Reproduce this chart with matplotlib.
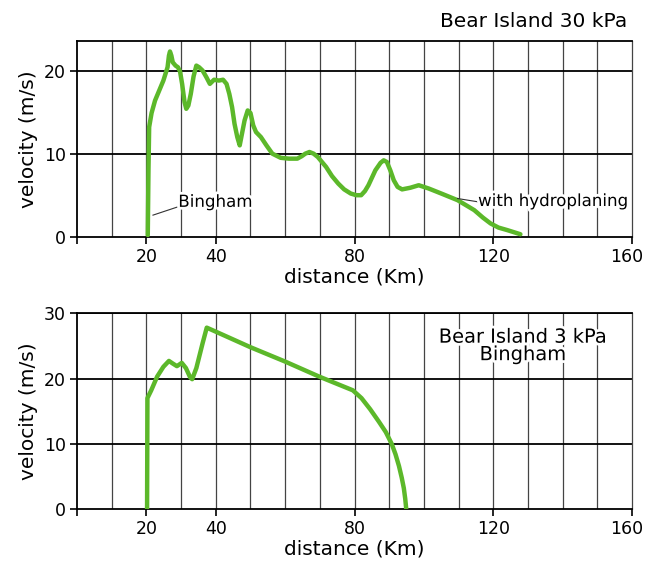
import matplotlib
matplotlib.use('Agg')
import matplotlib.pyplot as plt
import matplotlib.patheffects as pe
from matplotlib.transforms import ScaledTranslation

# --------------------------------------------------------------
# data
# top panel: Bear Island 30 kPa (with hydroplaning)
dist_30 = [20.4, 20.6, 20.8, 21.5, 22.5, 23.8, 24.9, 26.1, 26.5, 26.8, 27.2, 27.6, 28.4, 29.1,
           29.7, 30.3, 31.0, 31.5, 32.1, 32.8, 33.6, 34.4, 35.2, 36.2, 37.3, 38.3, 39.5, 40.9,
           42.1, 43.1, 43.9, 44.7, 45.4, 46.2, 46.9, 47.6, 48.3, 49.2, 50.0, 50.8, 51.6, 53.0,
           54.6, 56.3, 58.7, 61.1, 63.5, 64.8, 65.8, 67.0, 68.2, 69.4, 71.8, 73.5, 75.3, 77.0,
           78.9, 80.5, 81.9, 83.0, 84.0, 86.0, 87.5, 88.4, 89.3, 90.3, 91.3, 92.4, 93.7, 94.9,
           96.1, 98.5, 101.4, 105.0, 109.7, 114.5, 117.0, 119.2, 121.5, 124.0, 127.8]
vel_30 = [0.2, 8.0, 13.2, 14.9, 16.4, 17.7, 18.8, 20.4, 21.8, 22.3, 21.8, 21.0, 20.6, 20.4,
          19.9, 18.4, 16.2, 15.4, 15.8, 17.2, 19.3, 20.6, 20.4, 20.0, 19.2, 18.4, 18.9, 18.8,
          18.9, 18.4, 17.2, 15.6, 13.6, 12.0, 11.0, 12.5, 14.0, 15.2, 14.9, 13.4, 12.6, 12.0,
          11.0, 10.0, 9.5, 9.4, 9.4, 9.7, 10.0, 10.2, 10.0, 9.6, 8.4, 7.3, 6.4, 5.7,
          5.2, 5.0, 5.0, 5.5, 6.2, 8.0, 8.9, 9.2, 9.0, 8.0, 6.8, 6.0, 5.7, 5.8,
          5.9, 6.2, 5.8, 5.2, 4.4, 3.2, 2.3, 1.6, 1.1, 0.8, 0.3]

# bottom panel: Bear Island 3 kPa (Bingham)
dist_3 = [20.2, 20.3, 21.4, 23.1, 24.9, 26.5, 27.6, 28.8, 30.2, 31.4, 32.6, 33.2, 34.4, 36.2,
          37.4, 39.1, 50.0, 60.0, 69.8, 79.5, 82.0, 84.5, 87.0, 89.0, 90.7, 91.8, 92.8, 93.6,
          94.2, 94.6, 94.9]
vel_3 = [0.0, 17.0, 18.2, 20.3, 21.8, 22.7, 22.3, 21.9, 22.4, 21.6, 20.2, 19.9, 21.6, 25.4,
         27.8, 27.4, 24.8, 22.6, 20.3, 18.2, 17.0, 15.3, 13.4, 11.8, 10.0, 8.4, 6.6, 4.8,
         3.2, 1.6, 0.0]

x_ticks = [0, 20, 40, 80, 120, 160]
x_ticklabels = ['', '20', '40', '80', '120', '160']

green = '#5cb82a'

plt.rcParams['font.family'] = 'DejaVu Sans'

fig = plt.figure(figsize=(6.47, 5.65), dpi=100)
ax1 = fig.add_axes([0.119, 0.581, 0.858, 0.347])
ax2 = fig.add_axes([0.119, 0.099, 0.858, 0.3465])

halo = [pe.withStroke(linewidth=4, foreground='white')]


def style_axes(ax, ymax, yticks):
    ax.set_xlim(0, 160)
    ax.set_ylim(0, ymax)
    for x in range(10, 160, 10):
        ax.axvline(x, color='#444444', linewidth=0.9, zorder=1)
    for y in yticks[1:]:
        ax.axhline(y, color='black', linewidth=1.3, zorder=1)
    ax.spines['right'].set_color('#444444')
    ax.spines['right'].set_linewidth(0.9)
    for s in ['left', 'top', 'bottom']:
        ax.spines[s].set_linewidth(1.3)
    ax.set_xticks(x_ticks)
    ax.set_xticklabels(x_ticklabels)
    ax.set_yticks(yticks)
    ax.tick_params(axis='both', direction='out', length=5, width=1.2, labelsize=12.5, pad=3)
    # keep the last label inside the figure
    last = ax.get_xticklabels()[-1]
    last.set_transform(last.get_transform() + ScaledTranslation(-5 / 100, 0, fig.dpi_scale_trans))
    ax.set_xlabel('distance (Km)', fontsize=14.5, labelpad=1)
    ax.set_ylabel('velocity (m/s)', fontsize=14.5, labelpad=4)


# --------------------------------------------------------------
# top panel
style_axes(ax1, 23.6, [0, 10, 20])
ax1.plot(dist_30, vel_30, color=green, linewidth=3.2, solid_capstyle='round',
         solid_joinstyle='round', zorder=3)
ax1.plot([21.9, 29.1], [2.6, 3.6], color='#333333', linewidth=0.8, zorder=4)
ax1.text(29.2, 4.2, 'Bingham', fontsize=12, va='center', ha='left', zorder=5, path_effects=halo)
ax1.plot([109.7, 115.6], [4.6, 4.2], color='#333333', linewidth=0.8, zorder=4)
ax1.text(115.6, 4.3, 'with hydroplaning', fontsize=12, va='center', ha='left', zorder=5,
         path_effects=halo)
ax1.text(158.5, 25.9, 'Bear Island 30 kPa', fontsize=14.5, va='center', ha='right')

# --------------------------------------------------------------
# bottom panel
style_axes(ax2, 30, [0, 10, 20, 30])
ax2.plot(dist_3, vel_3, color=green, linewidth=3.2, solid_capstyle='round',
         solid_joinstyle='round', zorder=3)
ax2.text(128.5, 25.0, 'Bear Island 3 kPa\nBingham', fontsize=14, va='center', ha='center',
         multialignment='center', linespacing=0.9, zorder=5, path_effects=halo)

fig.savefig('out.png', dpi=100)
